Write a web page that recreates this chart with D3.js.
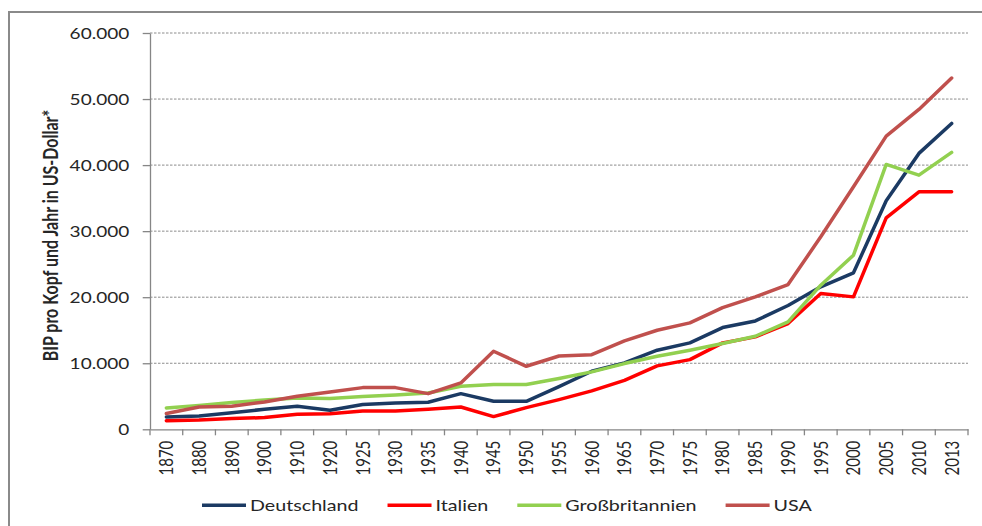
<!DOCTYPE html>
<html>
<head>
<meta charset="utf-8">
<script src="https://cdn.jsdelivr.net/npm/d3@7"></script>
<style>
  html, body { margin: 0; padding: 0; background: #fff; }
  svg { display: block; }
  text { font-family: Lato, "Open Sans", sans-serif; fill: #262626; }
</style>
</head>
<body>
<svg id="chart" width="982" height="526"></svg>
<script>
// ---- data ----
const years = ["1870","1880","1890","1900","1910","1920","1925","1930","1935","1940","1945","1950","1955","1960","1965","1970","1975","1980","1985","1990","1995","2000","2005","2010","2013"];
const deutschland = [1870,2020,2520,3030,3480,2880,3740,3990,4090,5400,4240,4240,6450,8790,10050,11970,13080,15400,16410,18740,21570,23690,34600,41770,46310];
const italien = [1310,1410,1620,1770,2270,2370,2780,2780,3030,3380,1920,3280,4500,5810,7420,9600,10550,13080,13990,16010,20550,20050,32020,35960,35960];
const grossbritannien = [3230,3590,4040,4440,4750,4650,4950,5200,5500,6520,6770,6770,7700,8690,9950,11060,11970,12980,14090,16260,21820,26360,40100,38480,41920];
const usa = [2380,3380,3480,4140,5000,5650,6310,6310,5400,7020,11820,9540,11100,11300,13380,15000,16110,18430,20050,21920,29140,36720,44390,48430,53180];
const seriesNames = ["Deutschland","Italien","Großbritannien","USA"];
const yTicks = [0,10000,20000,30000,40000,50000,60000];
const yTitle = "BIP pro Kopf und Jahr in US-Dollar*";

const seriesValues = [deutschland, italien, grossbritannien, usa];
const colors = ["#1B3A63","#FF0000","#92D050","#C0504D"];

(function () {
// ---- layout ----
const SX = 1.27; // horizontal stretch of the original picture's text
const svg = d3.select("#chart");
const mLeft = 150, mRight = 968, mTop = 33, mBottom = 429.3;

const x = d3.scaleBand().domain(years).range([mLeft, mRight]);
const y = d3.scaleLinear().domain([0, 60000]).range([mBottom, mTop]);
const de = d3.formatLocale({decimal: ",", thousands: ".", grouping: [3], currency: ["", "€"]});
const fmt = de.format(",");

// frame
svg.append("path")
  .attr("d", "M9,526 L9,12 L982,12")
  .attr("fill", "none").attr("stroke", "#8a8a8a").attr("stroke-width", 2);

// gridlines
svg.append("g").selectAll("line")
  .data(yTicks.filter(d => d > 0))
  .join("line")
  .attr("x1", mLeft).attr("x2", mRight)
  .attr("y1", d => y(d)).attr("y2", d => y(d))
  .attr("stroke", "#8c8c8c").attr("stroke-width", 1)
  .attr("stroke-dasharray", "2.5,1.5");

// y axis
const gy = svg.append("g").attr("transform", `translate(${mLeft},0)`)
  .call(d3.axisLeft(y).tickValues(yTicks).tickFormat(fmt).tickSize(7.3).tickSizeOuter(0));
gy.select(".domain").attr("stroke", "#868686").attr("stroke-width", 1.3);
gy.selectAll(".tick line").attr("stroke", "#868686").attr("stroke-width", 1.3);
gy.selectAll(".tick text")
  .attr("x", null).attr("dy", "0.36em")
  .attr("transform", `translate(-20.7,0) scale(${SX},1)`)
  .style("font-size", "15px").style("font-family", "Lato, sans-serif").attr("fill", "#262626");

// x axis
const gx = svg.append("g").attr("transform", `translate(0,${mBottom})`)
  .call(d3.axisBottom(x).tickSize(0).tickSizeOuter(0));
gx.select(".domain").attr("stroke", "#868686").attr("stroke-width", 1.3);
gx.selectAll(".tick text")
  .attr("y", null).attr("dy", "0.36em")
  .attr("text-anchor", "end")
  .attr("transform", `translate(0,11.4) scale(${SX},1) rotate(-90)`)
  .style("font-size", "15px").style("font-family", "Lato, sans-serif").attr("fill", "#262626");
// tick marks at category boundaries
const edges = years.map(d => x(d)).concat([x.range()[1]]);
gx.append("g").selectAll("line").data(edges).join("line")
  .attr("x1", d => d).attr("x2", d => d)
  .attr("y1", 0).attr("y2", 6)
  .attr("stroke", "#868686").attr("stroke-width", 1.3);

// y title
svg.append("text")
  .attr("text-anchor", "middle").attr("dy", "0.36em")
  .attr("transform", `translate(50.6,235.5) scale(${SX},1) rotate(-90)`)
  .style("font-size", "16px").style("font-weight", "bold")
  .attr("fill", "#000")
  .text(yTitle);

// lines
const line = d3.line()
  .x((d, i) => x(years[i]) + x.bandwidth() / 2)
  .y(d => y(d));
svg.append("g").selectAll("path")
  .data(seriesValues)
  .join("path")
  .attr("d", d => line(d))
  .attr("fill", "none")
  .attr("stroke", (d, i) => colors[i])
  .attr("stroke-width", 3.5)
  .attr("stroke-linejoin", "round")
  .attr("stroke-linecap", "round");

// legend
const lg = svg.append("g");
let cx = 202;
const ly = 505.3;
seriesNames.forEach((name, i) => {
  lg.append("line")
    .attr("x1", cx).attr("x2", cx + 44).attr("y1", ly).attr("y2", ly)
    .attr("stroke", colors[i]).attr("stroke-width", 3.5);
  const t = lg.append("text")
    .attr("transform", `translate(${cx + 48},${ly + 5.5}) scale(${SX},1)`)
    .style("font-size", "15.5px")
    .attr("fill", "#262626")
    .text(name);
  const w = t.node().getComputedTextLength() * SX;
  cx += 48 + w + 29;
});
})();
</script>
</body>
</html>
